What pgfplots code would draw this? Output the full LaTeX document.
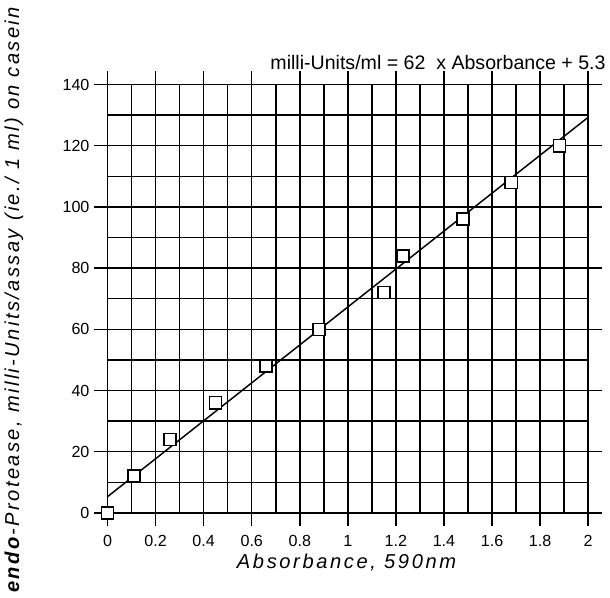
\documentclass[border=0pt]{standalone}
\usepackage{fontspec}
\setmainfont{Liberation Sans}
\usepackage{pgfplots}
\pgfplotsset{compat=1.18}
\begin{document}
\begin{tikzpicture}
\begin{axis}[
    scale only axis,
    width=358.5pt, height=319.5pt,
    xmin=0, xmax=2, ymin=0, ymax=140,
    xtick={0,0.2,...,2}, ytick={0,20,...,140},
    minor x tick num=1, minor y tick num=1,
    grid=both,
    grid style={black, line width=1.1pt},
    major grid style={black, line width=1.1pt},
    minor grid style={black, line width=1.1pt},
    axis line style={black, line width=1.3pt},
    tick align=outside,
    tick style={black, line width=1.1pt},
    minor tick length=0pt,
    major tick length=10pt,
    xticklabel style={font=\fontsize{12}{14}\selectfont, yshift=-3.5pt},
    yticklabel style={font=\fontsize{12}{14}\selectfont},
    /pgf/number format/assume math mode=true,
    xlabel={\addfontfeature{LetterSpace=13}\textit{Absorbance, 590nm}},
    xlabel style={font=\fontsize{15}{17}\selectfont, at={(axis description cs:0.5,-0.117)}, anchor=center},
    ylabel={\addfontfeature{LetterSpace=12}\textbf{\textit{endo}}\textit{-Protease, milli-Units/assay (ie./ 1 ml) on casein}},
    ylabel style={font=\fontsize{15}{17}\selectfont, at={(axis description cs:-0.195,0.5)}, anchor=center},
    clip=false,
]
% fitted line: milli-Units/ml = 62 x Absorbance + 5.3
\addplot[black, line width=1.1pt, no marks] coordinates {(0,5.3) (2,129.3)};
% measured points
\addplot[only marks, mark=square*, mark size=4.5pt,
    mark options={fill=white, draw=black, line width=1.1pt}] coordinates {
    (0,0) (0.11,12) (0.26,24) (0.45,36) (0.66,48) (0.88,60)
    (1.15,72) (1.23,84) (1.48,96) (1.68,108) (1.88,120)
};
\node[anchor=east, font=\fontsize{14.6}{16}\selectfont] at (axis description cs:1.046,1.052)
    {milli-Units/ml = 62\ \ x Absorbance + 5.3};
\end{axis}
\end{tikzpicture}
\end{document}
